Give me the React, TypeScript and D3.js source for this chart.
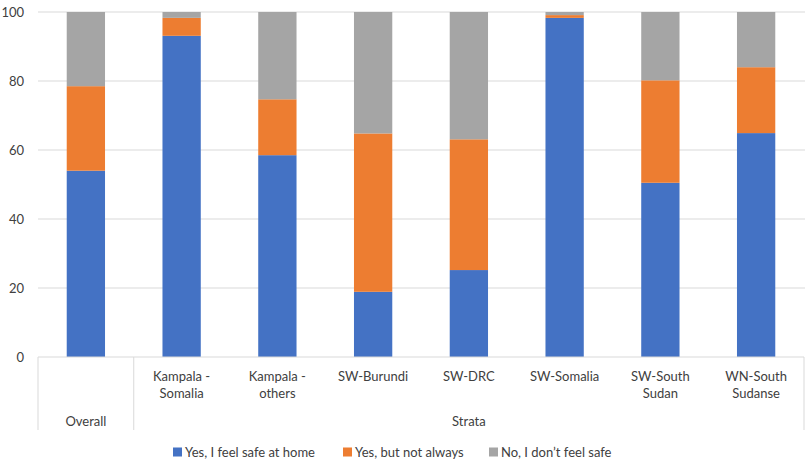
import React from "react";
import * as d3 from "d3";

const groups = ["Overall", "Strata"];
const categoryIds = [
  "Overall",
  "Kampala - Somalia",
  "Kampala - others",
  "SW-Burundi",
  "SW-DRC",
  "SW-Somalia",
  "SW-South Sudan",
  "WN-South Sudanse",
];
const categoryLines = [
  [],
  ["Kampala -", "Somalia"],
  ["Kampala -", "others"],
  ["SW-Burundi"],
  ["SW-DRC"],
  ["SW-Somalia"],
  ["SW-South", "Sudan"],
  ["WN-South", "Sudanse"],
];
const categoryGroup = ["Overall", "Strata", "Strata", "Strata", "Strata", "Strata", "Strata", "Strata"];

const seriesNames = ["Yes, I feel safe at home", "Yes, but not always", "No, I don\u2019t feel safe"];
const safeAtHome = [54.0, 93.1, 58.5, 18.9, 25.2, 98.3, 50.5, 64.9];
const notAlways = [24.5, 5.2, 16.2, 45.9, 37.9, 0.8, 29.7, 19.1];
const notSafe = [21.5, 1.7, 25.3, 35.2, 36.9, 0.9, 19.8, 16.0];
const yTicks = [0, 20, 40, 60, 80, 100];
const colors = ["#4472C4", "#ED7D31", "#A5A5A5"];

const W = 806;
const H = 464;
const left = 38;
const right = 804;
const top = 12;
const bottom = 357;
const font = "Lato, 'Open Sans', sans-serif";
const textColor = "#404040";
const gridColor = "#D9D9D9";

export default function App() {
  const x = d3.scaleBand<string>().domain(categoryIds).range([left, right]).paddingInner(0.6).paddingOuter(0.3);
  const xb = d3.scaleBand<string>().domain(categoryIds).range([left, right]);
  const y = d3.scaleLinear().domain([0, 100]).range([bottom, top]);

  const rows = categoryIds.map((id, i) => ({
    id,
    s0: safeAtHome[i],
    s1: notAlways[i],
    s2: notSafe[i],
  }));
  const stack = d3.stack<any>().keys(["s0", "s1", "s2"])(rows);

  const groupSpans = groups.map((g) => {
    const ids = categoryIds.filter((_, i) => categoryGroup[i] === g);
    const x0 = xb(ids[0])!;
    const x1 = xb(ids[ids.length - 1])! + xb.bandwidth();
    return { g, x0, x1 };
  });

  const legendX = [173, 343, 489];

  return (
    <svg
      width={W}
      height={H}
      style={{ position: "absolute", left: 0, top: 0, background: "#fff" }}
      fontFamily={font}
    >
      <rect width={W} height={H} fill="#fff" />
      {yTicks.map((t) => (
        <g key={t}>
          {t > 0 && (
            <line x1={left} x2={805} y1={y(t)} y2={y(t)} stroke={gridColor} strokeWidth={1} />
          )}
          <text x={24} y={y(t)} dy="0.35em" textAnchor="end" fontSize={13} fill={textColor}>
            {t}
          </text>
        </g>
      ))}
      {stack.map((layer, si) =>
        layer.map((d, i) => (
          <rect
            key={si + "-" + i}
            x={x(categoryIds[i])}
            width={x.bandwidth()}
            y={y(d[1])}
            height={y(d[0]) - y(d[1])}
            fill={colors[si]}
          />
        ))
      )}
      <line x1={left} x2={right} y1={bottom} y2={bottom} stroke={gridColor} strokeWidth={1} />
      {groupSpans.map((s, i) => (
        <g key={s.g}>
          {i === 0 && <line x1={s.x0} x2={s.x0} y1={bottom} y2={430} stroke={gridColor} />}
          <line x1={s.x1} x2={s.x1} y1={bottom} y2={430} stroke={gridColor} />
          <text x={(s.x0 + s.x1) / 2} y={426} textAnchor="middle" fontSize={13} fill={textColor}>
            {s.g}
          </text>
        </g>
      ))}
      {categoryIds.map((id, i) => (
        <text key={id} textAnchor="middle" fontSize={13} fill={textColor}>
          {categoryLines[i].map((ln, k) => (
            <tspan key={k} x={xb(id)! + xb.bandwidth() / 2} y={381 + k * 16.5}>
              {ln}
            </tspan>
          ))}
        </text>
      ))}
      {seriesNames.map((n, i) => (
        <g key={n}>
          <rect x={legendX[i]} y={447.5} width={9} height={9} fill={colors[i]} />
          <text x={legendX[i] + 12} y={456.5} fontSize={13} fill={textColor}>
            {n}
          </text>
        </g>
      ))}
    </svg>
  );
}
